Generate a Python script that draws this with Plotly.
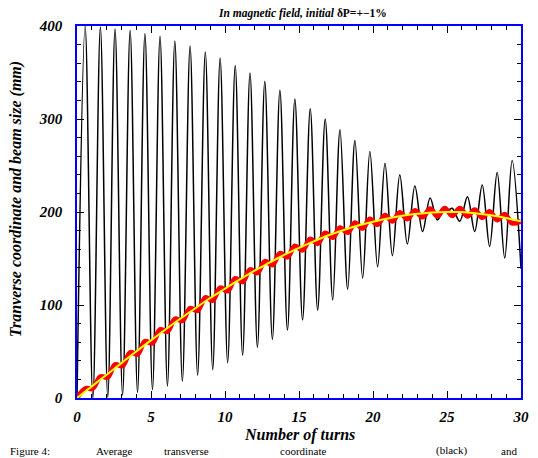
import plotly.graph_objects as go

# Black curve: average transverse coordinate, extrema
black_t = [0, 0.55, 1.07, 1.58, 2.08, 2.57, 3.08, 3.59, 4.09, 4.59, 5.10, 5.61, 6.11, 6.61,
           7.12, 7.64, 8.15, 8.67, 9.17, 9.67, 10.18, 10.69, 11.19, 11.69, 12.19, 12.69,
           13.2, 13.71, 14.22, 14.72, 15.24, 15.76, 16.26, 16.77, 17.28, 17.77, 18.29,
           18.78, 19.3, 19.79, 20.31, 20.81, 21.31, 21.81, 22.32, 22.83, 23.35, 23.86,
           24.35, 24.85, 25.1, 25.35, 25.86, 26.38, 26.87, 27.38, 27.88, 28.39, 28.9,
           29.4, 30]
black_v = [0, 400, 0, 399, 1, 397, 3, 395.5, 6, 392, 9, 389, 13, 384,
           18, 378.5, 24.5, 372, 30.5, 365.5, 38, 357.5, 46, 349.5, 54.5, 340.5,
           63, 331, 73, 321.5, 84, 311, 94.5, 300, 105.5, 288.5, 117,
           277, 129, 265, 141, 252.5, 153, 240, 165.5, 228, 179, 215,
           191.5, 204, 202, 204, 190, 216.5, 179, 229, 163, 242.5, 150.5,
           255.5, 139]

# Red curve: beam size (wiggling)
red_t = [0, 0.55, 1.07, 1.58, 2.08, 2.57, 3.08, 3.59, 4.09, 4.59, 5.10, 5.61, 6.11, 6.61,
         7.12, 7.64, 8.15, 8.67, 9.17, 9.67, 10.18, 10.69, 11.19, 11.69, 12.19, 12.69,
         13.2, 13.71, 14.22, 14.72, 15.24, 15.76, 16.26, 16.77, 17.28, 17.77, 18.29,
         18.78, 19.3, 19.79, 20.31, 20.81, 21.31, 21.81, 22.32, 22.83, 23.35, 23.86,
         24.35, 24.85, 25.35, 25.86, 26.38, 26.87, 27.38, 27.88, 28.39, 28.9, 29.4, 30]
red_v = [0, 10, 10.5, 23, 22.5, 36, 34.5, 49, 47, 61, 59, 73.5, 71.5, 85,
         83, 96.5, 94, 108, 105, 118.5, 115, 128.5, 125, 138, 134.5, 147,
         143, 155.5, 151.5, 163.5, 159, 171, 166, 177.5, 172.5, 183, 178,
         188.5, 182.5, 192.5, 186.5, 196.5, 190, 199.5, 192.5, 201.5, 194.5, 203.5,
         195.5, 204, 196, 204, 195.5, 202.5, 194, 200.5, 191.5, 197.5, 188, 190]

# Yellow curve: smooth beam size
yel_t = list(range(0, 31))
yel_v = [0, 12.5, 25, 37.5, 50, 62, 74, 85.5, 96.5, 107.5, 117.5, 127.5, 137, 145.5,
         154, 161.5, 168.5, 175, 180.5, 185.5, 189.5, 193, 196, 198, 199.5, 200, 200,
         198.5, 196.5, 193.5, 190]

x_ticks = [0, 5, 10, 15, 20, 25, 30]
y_ticks = [0, 100, 200, 300, 400]

# caption words under the figure and their left edges (px)
caption_words = ["Figure 4:", "Average", "transverse", "coordinate", "(black)", "and"]
caption_left = [8, 95, 165, 283, 441, 508]

SERIF = "Liberation Serif, Times New Roman, serif"
W, H = 538, 458
L, R, T, B = 77, 9, 26, 60
PW, PH = W - L - R, H - T - B

def py(pix):
    """paper y coordinate of a pixel row"""
    return (T + PH - pix) / PH

fig = go.Figure()
fig.add_trace(go.Scatter(x=black_t, y=black_v, mode="lines",
                         line=dict(color="black", width=1.5, shape="spline", smoothing=1)))
fig.add_trace(go.Scatter(x=red_t, y=red_v, mode="lines",
                         line=dict(color="red", width=5, shape="spline", smoothing=1)))
fig.add_trace(go.Scatter(x=yel_t, y=yel_v, mode="lines",
                         line=dict(color="yellow", width=2, shape="spline", smoothing=1)))

tickfont = dict(family=SERIF, size=15, color="black", weight="bold", style="italic")
axis_common = dict(showline=True, linecolor="blue", linewidth=1.5, mirror="allticks",
                   ticks="inside", ticklen=7, tickwidth=1.2, tickcolor="black",
                   showgrid=False, zeroline=False, tickfont=tickfont)

fig.update_xaxes(range=[0, 30], tickvals=x_ticks,
                 ticktext=[f"<b><i>{v}</i></b>" for v in x_ticks],
                 minor=dict(dtick=1, tick0=0, ticks="inside", ticklen=4, tickwidth=1,
                            tickcolor="black", showgrid=False),
                 ticklabelstandoff=4, **axis_common)
fig.update_yaxes(range=[0, 400], tickvals=y_ticks,
                 ticktext=[f"<b><i>{v}</i></b>" for v in y_ticks],
                 minor=dict(dtick=20, tick0=0, ticks="inside", ticklen=4, tickwidth=1,
                            tickcolor="black", showgrid=False),
                 ticklabelstandoff=10, **axis_common)

fig.update_layout(
    width=W, height=H,
    margin=dict(l=L, r=R, t=T, b=B),
    paper_bgcolor="white", plot_bgcolor="white",
    showlegend=False,
    title=dict(text="<i>In magnetic field, initial </i>δP=+−1%",
               x=0.563, xanchor="center", y=0.972, yanchor="middle",
               font=dict(family=SERIF, size=11.5, color="black", weight="bold")),
)

fig.add_annotation(text="<b><i>Number of turns</i></b>", xref="paper", yref="paper",
                   x=0.5, y=py(435), xanchor="center", yanchor="middle", showarrow=False,
                   borderpad=0, font=dict(family=SERIF, size=16, color="black"))
fig.add_annotation(text="<b><i>Tranverse coordinate and beam size (mm)</i></b>",
                   xref="paper", yref="paper",
                   x=-0.137, y=0.535, xanchor="center", yanchor="middle", textangle=-90,
                   showarrow=False, font=dict(family=SERIF, size=16, color="black"))
for word, left in zip(caption_words, caption_left):
    fig.add_annotation(text=word, xref="paper", yref="paper",
                       x=(left - L) / PW, y=py(H - 0.5),
                       xanchor="left", yanchor="bottom", showarrow=False,
                       borderpad=0, font=dict(family=SERIF, size=11, color="black"))

fig.write_html("out.html")
